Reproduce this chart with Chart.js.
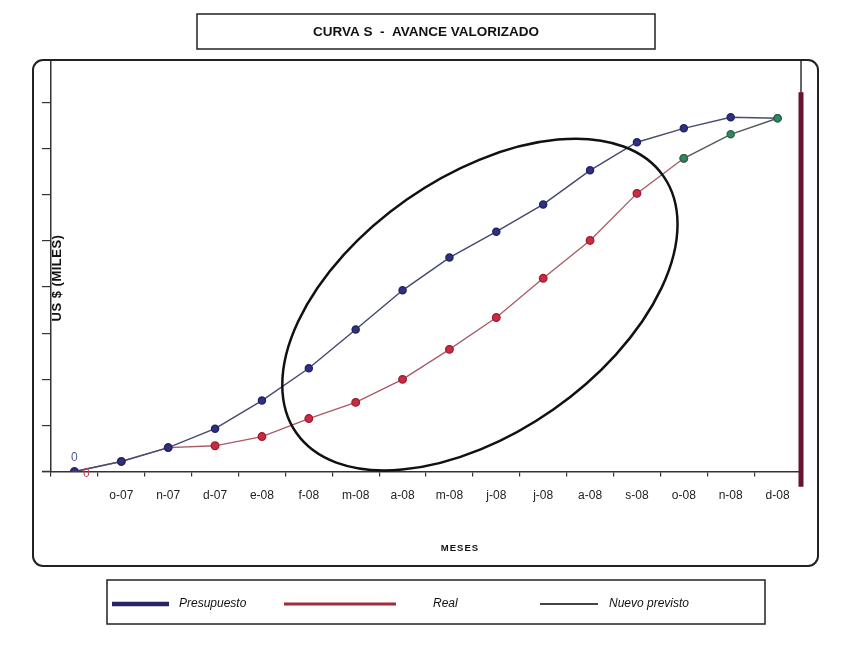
<!DOCTYPE html>
<html>
<head>
<meta charset="utf-8">
<title>Curva S - Avance valorizado</title>
<script src="https://cdn.jsdelivr.net/npm/chart.js@4/dist/chart.umd.min.js"></script>
<style>
  html, body { margin: 0; padding: 0; background: #fff; }
  #wrap { position: relative; width: 863px; height: 650px; }
</style>
</head>
<body>
<div id="wrap"><canvas id="curvaS" width="863" height="650"></canvas></div>
<script>
// Months (first slot is the unlabeled start point)
const meses = ['', 'o-07', 'n-07', 'd-07', 'e-08', 'f-08', 'm-08', 'a-08', 'm-08', 'j-08', 'j-08', 'a-08', 's-08', 'o-08', 'n-08', 'd-08'];

// Cumulative amounts, US$ (miles) in axis units
const presupuesto = [0, 0.22, 0.52, 0.93, 1.54, 2.24, 3.08, 3.93, 4.64, 5.20, 5.79, 6.53, 7.14, 7.44, 7.68, 7.66];
const real        = [0, 0.22, 0.52, 0.56, 0.76, 1.15, 1.50, 2.00, 2.65, 3.34, 4.19, 5.01, 6.03, 6.79, null, null];
const nuevoPrev   = [null, null, null, null, null, null, null, null, null, null, null, null, null, 6.79, 7.31, 7.66];

const yMax = 8.9;
const yTicks = [0, 1, 2, 3, 4, 5, 6, 7, 8];
const barraCierre = [-0.33, 8.22];          // red vertical bar at the end of the period
const elipse = { x: 8.65, y: 3.62 };        // centre of the highlight ellipse (category index, value)

const FONT = "'Liberation Sans', Arial, sans-serif";

const decor = {
  id: 'decor',
  beforeDraw(chart) {
    const { ctx } = chart;
    ctx.save();
    ctx.fillStyle = '#fff';
    ctx.fillRect(0, 0, chart.width, chart.height);
    ctx.restore();
  },
  afterDatasetsDraw(chart) {
    const { ctx, chartArea: ca, scales: { x, y } } = chart;
    ctx.save();

    // outer frame
    ctx.strokeStyle = '#222';
    ctx.lineWidth = 2;
    ctx.beginPath();
    ctx.roundRect(33, 60, 785, 506, 10);
    ctx.stroke();

    // x axis stub left of the y axis
    ctx.lineWidth = 1.5;
    ctx.strokeStyle = '#333';
    ctx.beginPath();
    ctx.moveTo(ca.left - 9, y.getPixelForValue(0));
    ctx.lineTo(ca.left, y.getPixelForValue(0));
    // right edge of plot
    ctx.moveTo(ca.right, ca.top);
    ctx.lineTo(ca.right, y.getPixelForValue(0));
    ctx.stroke();

    // closing bar
    ctx.strokeStyle = '#6a1232';
    ctx.lineWidth = 5;
    ctx.beginPath();
    ctx.moveTo(ca.right, y.getPixelForValue(barraCierre[0]));
    ctx.lineTo(ca.right, y.getPixelForValue(barraCierre[1]));
    ctx.stroke();

    // highlight ellipse
    ctx.strokeStyle = '#111';
    ctx.lineWidth = 2.5;
    ctx.beginPath();
    ctx.ellipse(x.getPixelForValue(elipse.x), y.getPixelForValue(elipse.y), 224, 128, -35 * Math.PI / 180, 0, Math.PI * 2);
    ctx.stroke();

    // "0" labels at the start point
    const p0 = chart.getDatasetMeta(1).data[0];
    const r0 = chart.getDatasetMeta(2).data[0];
    ctx.font = '12px ' + FONT;
    ctx.textAlign = 'center';
    ctx.textBaseline = 'middle';
    ctx.fillStyle = '#4a5a9a';
    ctx.fillText('0', p0.x, p0.y - 14);
    ctx.fillStyle = '#c04050';
    ctx.fillText('0', r0.x + 12, r0.y + 2);

    // title box
    ctx.strokeStyle = '#222';
    ctx.lineWidth = 1.5;
    ctx.strokeRect(197, 14, 458, 35);
    ctx.fillStyle = '#111';
    ctx.font = 'bold 13.5px ' + FONT;
    ctx.fillText('CURVA S  -  AVANCE VALORIZADO', 426, 32);

    // axis titles
    ctx.font = 'bold 9.5px ' + FONT;
    ctx.letterSpacing = '1px';
    ctx.fillText('MESES', (ca.left + ca.right) / 2 + 34, 548);
    ctx.letterSpacing = '0px';
    ctx.save();
    ctx.translate(ca.left + 6, 278);
    ctx.rotate(-Math.PI / 2);
    ctx.font = 'bold 13px ' + FONT;
    ctx.letterSpacing = '0.5px';
    ctx.fillText('US $ (MILES)', 0, 0);
    ctx.restore();

    // legend box
    ctx.strokeStyle = '#222';
    ctx.lineWidth = 1.5;
    ctx.strokeRect(107, 580, 658, 44);
    const items = [
      { ds: 1, x1: 112, x2: 169, w: 4.5, tx: 179 },
      { ds: 2, x1: 284, x2: 396, w: 3, tx: 433 },
      { ds: 0, x1: 540, x2: 598, w: 2, tx: 609 }
    ];
    ctx.font = 'italic 12px ' + FONT;
    ctx.textAlign = 'left';
    items.forEach(it => {
      const d = chart.data.datasets[it.ds];
      ctx.strokeStyle = d.legendColor;
      ctx.lineWidth = it.w;
      ctx.beginPath();
      ctx.moveTo(it.x1, 604);
      ctx.lineTo(it.x2, 604);
      ctx.stroke();
      ctx.fillStyle = '#111';
      ctx.fillText(d.label, it.tx, 604);
    });
    ctx.restore();
  }
};

new Chart(document.getElementById('curvaS'), {
  type: 'line',
  data: {
    labels: meses,
    datasets: [
      {
        label: 'Nuevo previsto',
        data: nuevoPrev,
        borderColor: '#555a58',
        legendColor: '#444',
        borderWidth: 1.5,
        pointBackgroundColor: '#2f8a5e',
        pointBorderColor: '#2a6a4e',
        pointRadius: 3.5,
        tension: 0
      },
      {
        label: 'Presupuesto',
        data: presupuesto,
        borderColor: '#474b72',
        legendColor: '#262466',
        borderWidth: 1.5,
        pointBackgroundColor: '#2e3186',
        pointBorderColor: '#23255e',
        pointRadius: 3.5,
        tension: 0
      },
      {
        label: 'Real',
        data: real,
        borderColor: '#a85a66',
        legendColor: '#a42a3c',
        borderWidth: 1.3,
        pointBackgroundColor: '#cc2a42',
        pointBorderColor: '#9a1e32',
        pointRadius: 3.8,
        tension: 0
      }
    ]
  },
  plugins: [decor],
  options: {
    responsive: false,
    animation: false,
    layout: { padding: { left: 42, right: 62, top: 61, bottom: 135 } },
    plugins: {
      legend: { display: false },
      tooltip: { enabled: false }
    },
    scales: {
      x: {
        offset: true,
        grid: { offset: true, drawOnChartArea: false, drawTicks: true, tickLength: 5, color: '#333', lineWidth: 1.2 },
        border: { display: true, color: '#333', width: 1.5 },
        ticks: { autoSkip: false, maxRotation: 0, padding: 12, color: '#222', font: { family: FONT, size: 12 } }
      },
      y: {
        min: 0,
        max: yMax,
        afterBuildTicks(scale) { scale.ticks = yTicks.map(v => ({ value: v })); },
        grid: { drawOnChartArea: false, drawTicks: true, tickLength: 9, color: '#333', lineWidth: 1.2 },
        border: { display: true, color: '#333', width: 1.5 },
        ticks: { display: false }
      }
    }
  }
});
</script>
</body>
</html>
